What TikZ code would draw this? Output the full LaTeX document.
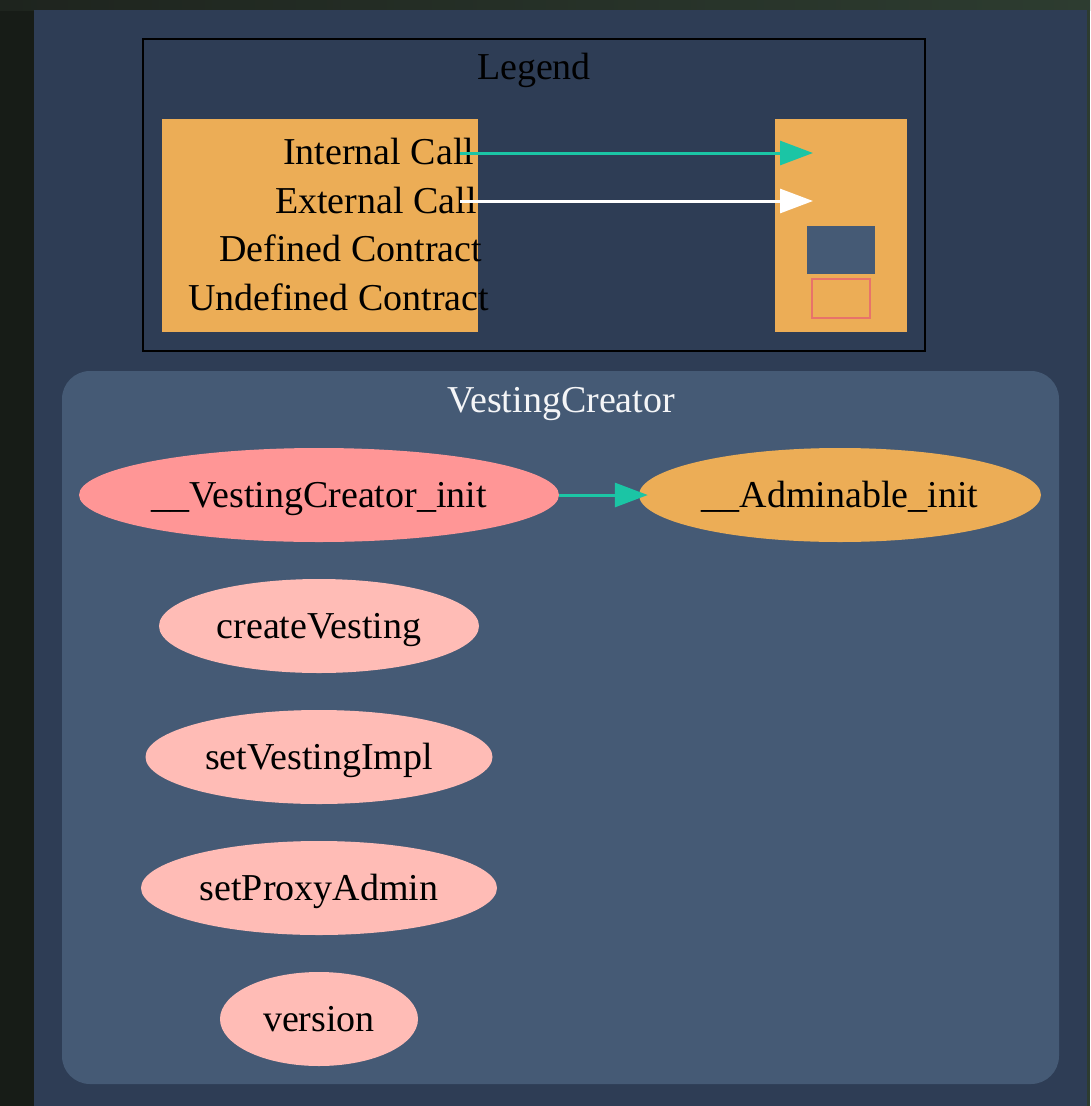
\documentclass[tikz,border=0pt]{standalone}
\usepackage{fontspec}
\setmainfont{Liberation Serif}
\usetikzlibrary{shapes.geometric,arrows.meta}
\definecolor{outerbg}{HTML}{171C17}
\definecolor{topstripL}{HTML}{1E241E}
\definecolor{topstripR}{HTML}{2D3C30}
\definecolor{panel}{HTML}{2E3D55}
\definecolor{cluster}{HTML}{455A75}
\definecolor{legorange}{HTML}{ECAD56}
\definecolor{pinkdark}{HTML}{FF9696}
\definecolor{pinklight}{HTML}{FFBCB6}
\definecolor{teal}{HTML}{1BC5A5}
\definecolor{salmon}{HTML}{E8736A}
\tikzset{
  bigfont/.style={font=\fontsize{38}{42}\selectfont, text height=25pt, text depth=0pt},
  fn/.style={ellipse, inner sep=0pt, minimum height=94pt, bigfont, text=black},
  legtxt/.style={anchor=base west, inner sep=0pt, font=\fontsize{38}{42}\selectfont, text=black},
  callarrow/.style={line width=3pt, -{Triangle[length=33pt,width=24pt]}},
}
\begin{document}
\begin{tikzpicture}[x=1pt,y=-1pt]
\useasboundingbox (0,0) rectangle (1090,1106);
% backgrounds
\fill[outerbg] (0,0) rectangle (1090,1106);
\shade[left color=topstripL, right color=topstripR] (0,0) rectangle (1090,10);
\fill[topstripR] (1087,0) rectangle (1090,1106);
\fill[panel] (34,10) rectangle (1087,1106);
% legend
\draw[black, line width=2pt] (143,39) rectangle (925,351);
\node[bigfont, inner sep=0pt, text=black] (legtitle) at (534,67) {Legend};
\fill[legorange] (162,119) rectangle (478,332);
\fill[legorange] (775,119) rectangle (907,332);
\node[legtxt] (lic) at (283,164) {Internal Call};
\node[legtxt] (lec) at (275,213) {External Call};
\node[legtxt] (ldc) at (219,261) {Defined Contract};
\node[legtxt] (luc) at (188,310) {Undefined Contract};
\coordinate (icfrom) at (460,153);
\coordinate (icto) at (813,153);
\coordinate (ecfrom) at (460,201);
\coordinate (ecto) at (813,201);
\draw[callarrow, teal] (icfrom) -- (icto);
\draw[callarrow, white] (ecfrom) -- (ecto);
\node[fill=cluster, draw=none, minimum width=68pt, minimum height=48pt, inner sep=0pt] (defbox) at (841,250) {};
\node[fill=legorange, draw=salmon, line width=2pt, minimum width=58pt, minimum height=39pt, inner sep=0pt] (undefbox) at (840.5,298.5) {};
% cluster
\fill[cluster, rounded corners=28pt] (62,371) rectangle (1059,1084);
\node[bigfont, inner sep=0pt, text=white!94!cluster] (cltitle) at (561,400) {VestingCreator};
% function nodes
\node[fn, fill=pinkdark, minimum width=480pt] (vci) at (319,495) {\_\_VestingCreator\_init};
\node[fn, fill=legorange, minimum width=402pt] (adm) at (840,495) {\_\_Adminable\_init};
\node[fn, fill=pinklight, minimum width=320pt] (cv) at (319,626) {createVesting};
\node[fn, fill=pinklight, minimum width=347pt] (svi) at (319,757) {setVestingImpl};
\node[fn, fill=pinklight, minimum width=356pt] (spa) at (319,888) {setProxyAdmin};
\node[fn, fill=pinklight, minimum width=198pt] (ver) at (319,1019) {version};
\draw[callarrow, teal, shorten >=-9pt] (vci) -- (adm);
\end{tikzpicture}
\end{document}
